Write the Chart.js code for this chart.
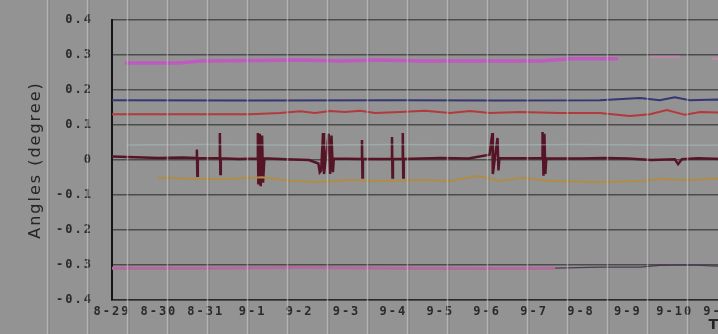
<!DOCTYPE html>
<html><head><meta charset="utf-8">
<script src="https://cdn.jsdelivr.net/npm/chart.js@4.4.1/dist/chart.umd.min.js"></script>
<style>
html,body{margin:0;padding:0;background:#939393;overflow:hidden;width:718px;height:334px}
#wrap{position:absolute;left:0;top:0;width:760px;height:334px}
</style></head><body>
<div id="wrap"><canvas id="c" width="760" height="334"></canvas></div>
<script>
// ---- tick labels ----
const dateLabels = ['8-29','8-30','8-31','9-1','9-2','9-3','9-4','9-5','9-6','9-7','9-8','9-9','9-10','9-11'];
const yTickValues = [-0.4,-0.3,-0.2,-0.1,0,0.1,0.2,0.3,0.4];
const yTickLabels = ['-0.4','-0.3','-0.2','-0.1','0','0.1','0.2','0.3','0.4'];
const scanLineIdx = [-2,-1,0,1,2,3,4,5,6,7,8,9,10,11,12,13,14,15];

// ---- series (time in days from 8-29, angle in degrees) ----
const topT = [0.28,1.45,1.88,3.16,4.01,4.86,5.71,6.57,7.85,9.13,9.77,10.79];
const topV = [0.277,0.277,0.283,0.284,0.286,0.283,0.286,0.283,0.283,0.283,0.289,0.289];
const topTailT = [11.47,12.11,12.12,12.79,13.7];
const topTailV = [0.294,0.294,null,0.289,0.289];

const blueT = [0,2.94,6.14,8.27,10.4,11.26,11.68,12.0,12.32,12.92,13.7];
const blueV = [0.171,0.17,0.171,0.17,0.171,0.177,0.171,0.179,0.171,0.173,0.171];

const redT = [0,1.45,2.94,3.58,4.01,4.33,4.65,4.97,5.29,5.61,6.14,6.67,7.21,7.63,8.06,8.7,9.55,10.4,11.04,11.47,11.83,12.22,12.54,12.92,13.7];
const redV = [0.131,0.131,0.131,0.134,0.139,0.134,0.14,0.137,0.141,0.134,0.137,0.141,0.134,0.14,0.134,0.137,0.134,0.134,0.126,0.131,0.143,0.129,0.137,0.136,0.134];

const tealT = [0.32,2,4,6,8,10,12,13.7];
const tealV = [0.043,0.044,0.042,0.044,0.043,0.044,0.042,0.043];

const spikeT = [0,0.5,1.0,1.5,1.80,1.81,1.82,1.83,2.29,2.30,2.31,2.32,2.7,3.10,3.11,3.12,3.15,3.17,3.20,3.22,3.25,3.7,4.2,4.40,4.43,4.46,4.50,4.52,4.62,4.65,4.68,4.71,4.73,5.32,5.33,5.34,5.35,5.96,5.97,5.98,5.99,6.19,6.20,6.21,6.22,7.0,7.6,8.05,8.11,8.12,8.22,8.24,8.26,9.17,9.18,9.20,9.22,9.24,9.26,10.0,10.5,11.0,11.5,12.0,12.07,12.15,12.5,13.0,13.7];
const spikeV = [0.01,0.008,0.006,0.007,0.006,0.03,-0.045,0.005,0.005,0.077,-0.04,0.005,0.003,0.004,0.077,-0.07,0.075,-0.075,0.07,-0.065,0.005,0.002,0.0,-0.01,-0.035,-0.03,0.077,-0.04,0.075,-0.04,0.07,-0.035,0.004,0.003,0.057,-0.05,0.003,0.003,0.066,-0.05,0.003,0.003,0.077,-0.05,0.003,0.006,0.004,0.015,0.077,-0.04,0.063,-0.03,0.005,0.005,0.08,-0.045,0.075,-0.04,0.004,0.004,0.006,0.004,0.0,0.002,-0.012,0.002,0.005,0.003,0.005];

const orangeT = [0.98,1.88,2.52,3.2,3.8,4.43,5.07,5.71,6.57,7.21,7.8,8.27,8.74,9.34,10.4,11.26,11.68,12.32,12.92,13.7];
const orangeV = [-0.051,-0.054,-0.054,-0.049,-0.06,-0.063,-0.057,-0.06,-0.057,-0.06,-0.046,-0.06,-0.051,-0.06,-0.063,-0.06,-0.054,-0.057,-0.053,-0.054];

const lowT = [0,1.88,4.01,6.14,8.27,9.45,10.4,11.26,11.68,12.32,12.92,13.7];
const lowV = [-0.309,-0.309,-0.307,-0.309,-0.31,-0.309,-0.306,-0.306,-0.301,-0.3,-0.303,-0.303];
const lowPinkT = [0,1.88,4.01,6.14,8.27,9.45];
const lowPinkV = [-0.309,-0.309,-0.307,-0.309,-0.31,-0.309];

const pts = (T, V) => T.map((t, i) => ({x: t, y: V[i]}));
const line = (T, V, color, w) => ({data: pts(T, V), borderColor: color, borderWidth: w, pointRadius: 0, tension: 0, spanGaps: false, xAxisID: 'x', yAxisID: 'y'});

const spacing = {
  id: 'spacing',
  beforeInit(c){ c.ctx.letterSpacing = '2px'; },
  beforeUpdate(c){ c.ctx.letterSpacing = '2px'; },
  beforeDraw(c){ c.ctx.letterSpacing = '2px'; }
};
const scanLines = {
  id: 'scanLines',
  afterDatasetsDraw(c){
    const s = c.scales.xg, ctx = c.ctx;
    ctx.save();
    for (const k of scanLineIdx){
      const px = Math.round(s.getPixelForValue(k)) + 0.5;
      ctx.strokeStyle = 'rgba(205,205,205,0.55)';
      ctx.lineWidth = 1.5;
      ctx.beginPath(); ctx.moveTo(px, 0); ctx.lineTo(px, c.height); ctx.stroke();
      ctx.strokeStyle = 'rgba(60,60,60,0.18)';
      ctx.lineWidth = 1;
      ctx.beginPath(); ctx.moveTo(px + 1.5, 0); ctx.lineTo(px + 1.5, c.height); ctx.stroke();
    }
    ctx.restore();
  }
};

const tickFont = {family: '"DejaVu Sans Mono", monospace', size: 12, weight: 'bold'};

new Chart(document.getElementById('c'), {
  type: 'line',
  data: {
    datasets: [
      line(tealT, tealV, 'rgba(175,205,205,0.4)', 1.5),
      line(lowPinkT, lowPinkV, '#b46aa0', 3),
      line(lowT, lowV, '#4a3a4e', 1.2),
      line(orangeT, orangeV, '#b08c45', 2),
      line(redT, redV, '#b33a3c', 2),
      line(blueT, blueV, '#363672', 2),
      line(topT, topV, '#c05ac0', 3.5),
      line(topT, topV, '#6e2a92', 1.2),
      line(topTailT, topTailV, '#b88aa8', 2.5),
      line(spikeT, spikeV, '#561526', 2.5)
    ]
  },
  options: {
    responsive: false,
    devicePixelRatio: 1,
    animation: false,
    events: [],
    layout: {padding: {top: 20, right: 5, left: 0, bottom: 0}},
    plugins: {legend: {display: false}, tooltip: {enabled: false}},
    scales: {
      x: {
        type: 'linear', position: 'bottom', min: 0, max: 13.71,
        afterFit(s){ s.height = 34; },
        afterBuildTicks(s){ s.ticks = dateLabels.map((_, i) => ({value: i})); },
        grid: {display: false, drawTicks: false},
        border: {display: true, color: '#2a2a2a', width: 1.5},
        ticks: {autoSkip: false, maxRotation: 0, padding: 5, color: '#2a2a2a', font: tickFont,
          callback: (v) => dateLabels[Math.round(v)]},
        title: {display: true, text: 'Time', align: 'end', color: '#222', padding: {top: 0, bottom: 0},
          font: {family: '"DejaVu Sans", sans-serif', size: 14, weight: 'bold'}}
      },
      xg: {
        type: 'linear', position: 'bottom', display: false, min: -0.375, max: 15.7
      },
      y: {
        type: 'linear', min: -0.4, max: 0.4,
        afterFit(s){ s.width = 112; s.paddingTop = 7; s.paddingBottom = 7; },
        afterBuildTicks(s){ s.ticks = yTickValues.map(v => ({value: v})); },
        grid: {color: '#4c4c4c', lineWidth: 1.5, drawTicks: false},
        border: {display: true, color: '#151515', width: 2},
        ticks: {padding: 19, color: '#2a2a2a', font: tickFont,
          callback: (v) => yTickLabels[yTickValues.findIndex(t => Math.abs(t - v) < 1e-9)]},
        title: {display: true, text: 'Angles (degree)', color: '#262626', padding: {top: 26, bottom: 0},
          font: {family: '"DejaVu Sans", sans-serif', size: 16}}
      }
    }
  },
  plugins: [spacing, scanLines]
});
</script>
</body></html>
